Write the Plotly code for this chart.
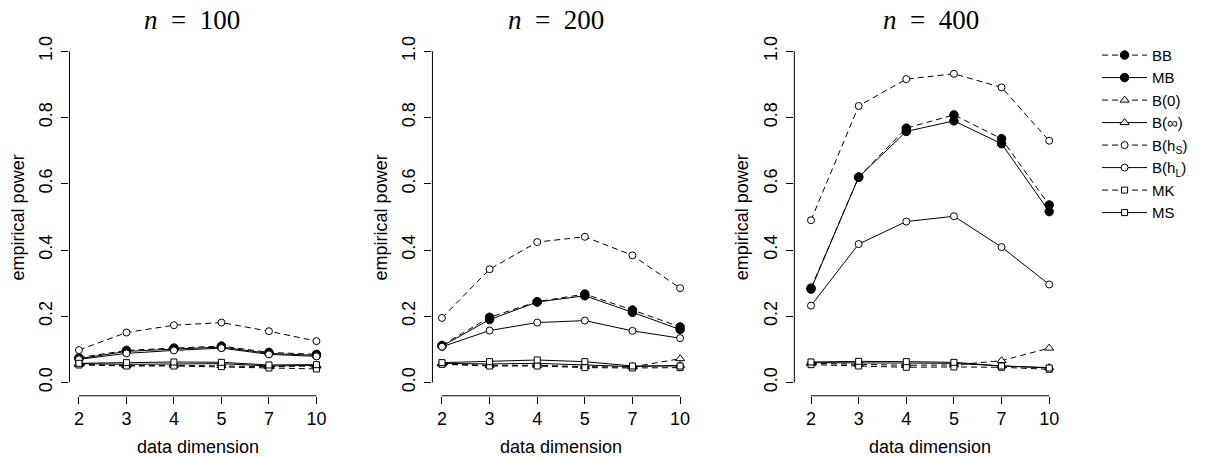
import plotly.graph_objects as go

# ---------------- data ----------------
dims = ["2", "3", "4", "5", "7", "10"]
sample_sizes = [100, 200, 400]
methods = ["BB", "MB", "B(0)", "B(∞)", "B(h<sub>S</sub>)", "B(h<sub>L</sub>)", "MK", "MS"]

BB_100 = [0.075, 0.097, 0.104, 0.110, 0.091, 0.085]
MB_100 = [0.072, 0.094, 0.101, 0.107, 0.088, 0.082]
B0_100 = [0.055, 0.051, 0.052, 0.051, 0.048, 0.050]
Binf_100 = [0.057, 0.055, 0.056, 0.057, 0.050, 0.052]
BhS_100 = [0.098, 0.151, 0.173, 0.181, 0.155, 0.125]
BhL_100 = [0.070, 0.088, 0.097, 0.104, 0.085, 0.079]
MK_100 = [0.053, 0.050, 0.050, 0.048, 0.044, 0.041]
MS_100 = [0.058, 0.060, 0.062, 0.061, 0.053, 0.054]

BB_200 = [0.112, 0.197, 0.244, 0.267, 0.219, 0.168]
MB_200 = [0.110, 0.190, 0.243, 0.262, 0.212, 0.160]
B0_200 = [0.056, 0.052, 0.052, 0.048, 0.047, 0.072]
Binf_200 = [0.058, 0.056, 0.058, 0.053, 0.048, 0.052]
BhS_200 = [0.195, 0.342, 0.424, 0.440, 0.384, 0.285]
BhL_200 = [0.108, 0.157, 0.181, 0.187, 0.156, 0.134]
MK_200 = [0.055, 0.050, 0.050, 0.045, 0.044, 0.045]
MS_200 = [0.060, 0.063, 0.068, 0.063, 0.050, 0.050]

BB_400 = [0.285, 0.620, 0.768, 0.808, 0.736, 0.536]
MB_400 = [0.282, 0.620, 0.758, 0.790, 0.721, 0.516]
B0_400 = [0.058, 0.055, 0.052, 0.053, 0.066, 0.104]
Binf_400 = [0.060, 0.060, 0.058, 0.058, 0.050, 0.045]
BhS_400 = [0.490, 0.835, 0.916, 0.932, 0.891, 0.730]
BhL_400 = [0.232, 0.418, 0.486, 0.502, 0.409, 0.296]
MK_400 = [0.054, 0.050, 0.046, 0.047, 0.046, 0.040]
MS_400 = [0.062, 0.064, 0.063, 0.061, 0.050, 0.044]

y_ticks = [0.0, 0.2, 0.4, 0.6, 0.8, 1.0]

panels = [
    [BB_100, MB_100, B0_100, Binf_100, BhS_100, BhL_100, MK_100, MS_100],
    [BB_200, MB_200, B0_200, Binf_200, BhS_200, BhL_200, MK_200, MS_200],
    [BB_400, MB_400, B0_400, Binf_400, BhS_400, BhL_400, MK_400, MS_400],
]

# ---------------- styles ----------------
DASH = "6px,4px"
styles = [
    dict(dash=DASH, symbol="circle", fill="black", size=8.5),
    dict(dash="solid", symbol="circle", fill="black", size=8.5),
    dict(dash=DASH, symbol="triangle-up", fill="white", size=8),
    dict(dash="solid", symbol="triangle-up", fill="white", size=8),
    dict(dash=DASH, symbol="circle", fill="white", size=7),
    dict(dash="solid", symbol="circle", fill="white", size=7),
    dict(dash=DASH, symbol="square", fill="white", size=6),
    dict(dash="solid", symbol="square", fill="white", size=6),
]

W, H = 1209, 460
FONT = "Liberation Sans, Arial, Helvetica, sans-serif"

# plot-region geometry (pixels)
x_dom_px = [(69.5, 326.2), (432.8, 690.2), (795.0, 1059.6)]
x_ranges = [[-0.2, 5.2], [-0.2, 5.2], [-0.35, 5.2]]
y_top_px, y_bot_px = 36.2, 395.5
title_x_px = [192, 556, 932]

fig = go.Figure()
xidx = list(range(len(dims)))

for p, series in enumerate(panels):
    ax = "" if p == 0 else str(p + 1)
    for m, (name, vals, st) in enumerate(zip(methods, series, styles)):
        fig.add_trace(go.Scatter(
            x=xidx, y=vals, mode="lines+markers", name=name,
            legendgroup=name, showlegend=(p == 2),
            line=dict(color="black", width=1, dash=st["dash"]),
            marker=dict(symbol=st["symbol"], size=st["size"], color=st["fill"],
                        line=dict(color="black", width=1)),
            xaxis="x" + ax, yaxis="y" + ax,
        ))

layout = dict(
    width=W, height=H,
    margin=dict(l=0, r=0, t=0, b=0),
    paper_bgcolor="white", plot_bgcolor="white",
    font=dict(family=FONT, size=18, color="black"),
    showlegend=True,
    legend=dict(
        x=1098 / W, y=1 - 37 / H, xanchor="left", yanchor="top",
        font=dict(family=FONT, size=15, color="black"),
        bgcolor="rgba(0,0,0,0)", borderwidth=0,
        tracegroupgap=0, itemwidth=45,
    ),
    shapes=[], annotations=[],
)

ydom = [1 - y_bot_px / H, 1 - y_top_px / H]
for p in range(3):
    ax = "" if p == 0 else str(p + 1)
    x0, x1 = x_dom_px[p]
    layout["xaxis" + ax] = dict(
        domain=[x0 / W, x1 / W], range=x_ranges[p],
        tickmode="array", tickvals=xidx, ticktext=dims,
        ticks="outside", ticklen=7, tickwidth=1, tickcolor="black",
        showline=False, showgrid=False, zeroline=False,
        anchor="y" + ax, tickfont=dict(size=18, family=FONT),
        fixedrange=True,
    )
    layout["yaxis" + ax] = dict(
        domain=ydom, range=[-0.04, 1.04],
        tickmode="array", tickvals=y_ticks, tickformat=".1f",
        ticks="outside", ticklen=7, tickwidth=1, tickcolor="black",
        tickangle=-90, showline=False, showgrid=False, zeroline=False,
        anchor="x" + ax, tickfont=dict(size=18, family=FONT),
        ticklabelstandoff=2, fixedrange=True,
    )
    # R-style axis lines spanning first to last tick
    layout["shapes"].append(dict(type="line", xref="x" + ax + " domain", yref="y" + ax,
                                 x0=0, x1=0, y0=y_ticks[0], y1=y_ticks[-1],
                                 line=dict(color="black", width=1)))
    layout["shapes"].append(dict(type="line", xref="x" + ax, yref="y" + ax + " domain",
                                 x0=xidx[0], x1=xidx[-1], y0=0, y1=0,
                                 line=dict(color="black", width=1)))
    # titles
    layout["annotations"].append(dict(
        text="<i>n</i>\u2002=\u2002" + str(sample_sizes[p]),
        xref="paper", yref="paper", x=title_x_px[p] / W, y=1 - 18 / H,
        xanchor="center", yanchor="middle", showarrow=False,
        font=dict(family="Liberation Serif, DejaVu Serif, serif", size=27, color="black"),
    ))
    # axis titles
    layout["annotations"].append(dict(
        text="data dimension", xref="x" + ax + " domain", yref="paper",
        x=((xidx[0] + xidx[-1]) / 2 - x_ranges[p][0]) / (x_ranges[p][1] - x_ranges[p][0]),
        y=1 - 447 / H, xanchor="center", yanchor="middle", showarrow=False,
        font=dict(family=FONT, size=18, color="black"),
    ))
    layout["annotations"].append(dict(
        text="empirical power", xref="paper", yref="y" + ax + " domain",
        x=(x0 - 52) / W, y=0.5, xanchor="center", yanchor="middle",
        textangle=-90, showarrow=False,
        font=dict(family=FONT, size=18, color="black"),
    ))

fig.update_layout(**layout)
fig.write_html("out.html", config={"displayModeBar": False},
               post_script="document.body.style.margin='0px';")
